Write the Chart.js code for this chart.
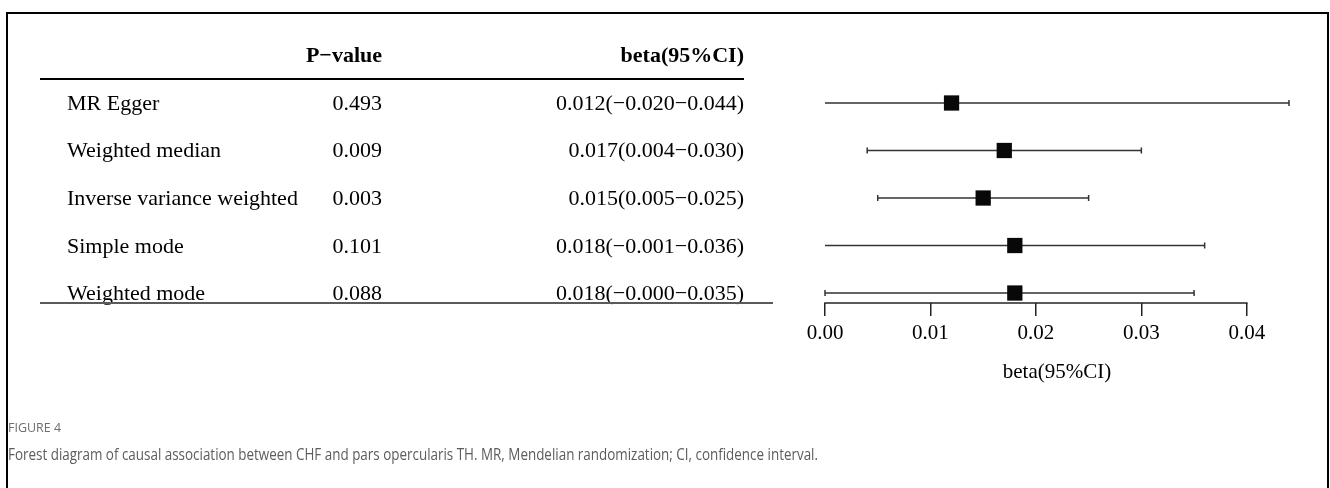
<!DOCTYPE html>
<html>
<head>
<meta charset="utf-8">
<title>Forest plot: CHF and pars opercularis TH</title>
<script src="https://cdn.jsdelivr.net/npm/chart.js@4.4.1/dist/chart.umd.min.js"></script>
<style>
  html, body { margin: 0; padding: 0; background: #fff; width: 1330px; height: 488px; overflow: hidden; }
  #frame { position: absolute; left: 6px; top: 12px; width: 1323px; height: 600px; border: 2px solid #000; border-bottom: none; box-sizing: border-box; }
  #plot { position: absolute; left: 0; top: 0; }
  .figno { position: absolute; left: 8px; top: 418px; font-family: "Open Sans", sans-serif; font-size: 13px; color: #6e6e6e; white-space: nowrap; transform-origin: left top; }
  .caption { position: absolute; left: 8px; top: 442px; font-family: "Open Sans", sans-serif; font-size: 16.5px; color: #5c5c5c; white-space: nowrap; transform-origin: left top; }
</style>
</head>
<body>
<div id="frame"></div>
<canvas id="plot" width="1330" height="488"></canvas>
<div class="figno" id="figno">FIGURE 4</div>
<div class="caption" id="caption">Forest diagram of causal association between CHF and pars opercularis TH. MR, Mendelian randomization; CI, confidence interval.</div>
<script>
// Mendelian randomization estimates, one entry per method
const methods = ['MR Egger', 'Weighted median', 'Inverse variance weighted', 'Simple mode', 'Weighted mode'];
const pValues = [0.493, 0.009, 0.003, 0.101, 0.088];
const betaValues = [0.012, 0.017, 0.015, 0.018, 0.018];
const lowerCI = [-0.020, 0.004, 0.005, -0.001, -0.0001];
const upperCI = [0.044, 0.030, 0.025, 0.036, 0.035];
const xTickValues = [0, 0.01, 0.02, 0.03, 0.04];
const xLimits = [0, 0.044];

const SERIF = '"Liberation Serif", "Times New Roman", serif';
const MINUS = '\u2212';
const fmt = v => v.toFixed(3).replace('-', MINUS);
const betaLabels = betaValues.map((b, i) => `${fmt(b)}(${fmt(lowerCI[i])}${MINUS}${fmt(upperCI[i])})`);

// Text table to the left of the plot, rows aligned with the y scale
const tablePlugin = {
  id: 'resultTable',
  afterDraw(chart) {
    const { ctx, chartArea } = chart;
    const y = chart.scales.y;
    ctx.save();
    ctx.fillStyle = '#000';
    ctx.textBaseline = 'alphabetic';
    ctx.font = `bold 22px ${SERIF}`;
    ctx.textAlign = 'right';
    const headerY = chartArea.top - 17;
    ctx.fillText('P' + MINUS + 'value', 382, headerY);
    ctx.fillText('beta(95%CI)', 744, headerY);

    ctx.font = `22px ${SERIF}`;
    methods.forEach((m, i) => {
      const rowY = y.getPixelForValue(i) + 7;
      ctx.textAlign = 'left';
      ctx.fillText(m, 67, rowY);
      ctx.textAlign = 'right';
      ctx.fillText(pValues[i].toFixed(3), 382, rowY);
      ctx.fillText(betaLabels[i], 744, rowY);
    });

    ctx.lineWidth = 2;
    ctx.strokeStyle = '#000';
    ctx.beginPath();
    ctx.moveTo(40, chartArea.top);
    ctx.lineTo(744, chartArea.top);
    ctx.stroke();
    ctx.strokeStyle = '#5a5a5a';
    ctx.beginPath();
    ctx.moveTo(40, chartArea.bottom);
    ctx.lineTo(773, chartArea.bottom);
    ctx.stroke();
    ctx.restore();
  }
};

// Confidence interval whiskers, clipped to the axis limits
const ciPlugin = {
  id: 'ciBars',
  beforeDatasetsDraw(chart) {
    const { ctx } = chart;
    const { x, y } = chart.scales;
    ctx.save();
    ctx.strokeStyle = '#333';
    ctx.lineWidth = 1.5;
    methods.forEach((_, i) => {
      const py = y.getPixelForValue(i);
      const lo = Math.max(lowerCI[i], x.min);
      const hi = Math.min(upperCI[i], x.max);
      const x1 = x.getPixelForValue(lo);
      const x2 = x.getPixelForValue(hi);
      ctx.beginPath();
      ctx.moveTo(x1, py);
      ctx.lineTo(x2, py);
      if (Math.round(lowerCI[i] * 1000) >= Math.round(x.min * 1000)) {
        ctx.moveTo(x1, py - 3);
        ctx.lineTo(x1, py + 3);
      }
      if (Math.round(upperCI[i] * 1000) <= Math.round(x.max * 1000)) {
        ctx.moveTo(x2, py - 3);
        ctx.lineTo(x2, py + 3);
      }
      ctx.stroke();
    });
    ctx.restore();
  },
  afterDraw(chart) {
    // axis line spanning the first to the last tick
    const { ctx, chartArea } = chart;
    const x = chart.scales.x;
    ctx.save();
    ctx.strokeStyle = '#222';
    ctx.lineWidth = 1.5;
    ctx.beginPath();
    ctx.moveTo(x.getPixelForValue(xTickValues[0]) - 0.75, chartArea.bottom);
    ctx.lineTo(x.getPixelForValue(xTickValues[xTickValues.length - 1]) + 0.75, chartArea.bottom);
    ctx.stroke();
    ctx.restore();
  }
};

new Chart(document.getElementById('plot'), {
  type: 'scatter',
  data: {
    datasets: [{
      data: betaValues.map((b, i) => ({ x: b, y: i })),
      pointStyle: 'rect',
      pointRadius: 10.8,
      backgroundColor: '#080808',
      borderWidth: 0,
      clip: false
    }]
  },
  options: {
    responsive: false,
    animation: false,
    devicePixelRatio: 1,
    layout: { padding: { left: 825, right: 41, top: 79, bottom: 0 } },
    plugins: { legend: { display: false }, tooltip: { enabled: false } },
    scales: {
      x: {
        type: 'linear',
        min: xLimits[0],
        max: xLimits[1],
        afterBuildTicks: s => { s.ticks = xTickValues.map(v => ({ value: v })); },
        afterFit: s => { s.height = 185; },
        grid: { drawOnChartArea: false, drawTicks: true, tickLength: 13, color: '#222', lineWidth: 1.5 },
        border: { display: false },
        ticks: {
          font: { family: SERIF, size: 21 },
          color: '#000',
          padding: 5,
          maxRotation: 0,
          autoSkip: false,
          callback: v => Number(v).toFixed(2)
        },
        title: {
          display: true,
          text: 'beta(95%CI)',
          font: { family: SERIF, size: 21 },
          color: '#000',
          padding: { top: 0, bottom: 103 }
        }
      },
      y: { type: 'linear', display: false, reverse: true, min: -0.505, max: 4.21 }
    }
  },
  plugins: [ciPlugin, tablePlugin]
});

// Fit the caption lines to their widths
const cap = document.getElementById('caption');
const capW = cap.getBoundingClientRect().width;
cap.style.transform = `scaleX(${(810 / capW).toFixed(4)})`;
const fig = document.getElementById('figno');
const figW = fig.getBoundingClientRect().width;
fig.style.transform = `scaleX(${(53 / figW).toFixed(4)})`;
</script>
</body>
</html>
